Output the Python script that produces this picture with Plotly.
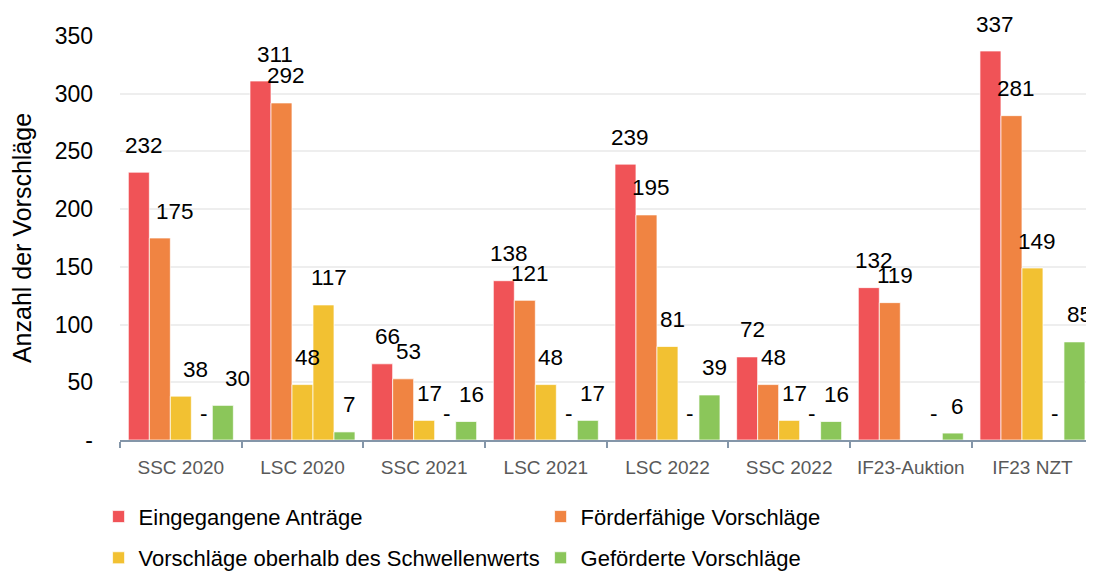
import plotly.graph_objects as go

# ---- data ----
categories = ["SSC 2020", "LSC 2020", "SSC 2021", "LSC 2021", "LSC 2022",
              "SSC 2022", "IF23-Auktion", "IF23 NZT"]
eingegangene = [232, 311, 66, 138, 239, 72, 132, 337]
foerderfaehig = [175, 292, 53, 121, 195, 48, 119, 281]
oberhalb = [38, 48, 17, 48, 81, 17, None, 149]
oberhalb_extra = [0, 117, 0, 0, 0, 0, 0, 0]
gefoerdert = [30, 7, 16, 17, 39, 16, 6, 85]

series_names = ["Eingegangene Anträge", "Förderfähige Vorschläge",
                "Vorschläge oberhalb des Schwellenwerts", "",
                "Geförderte Vorschläge"]
series_values = [eingegangene, foerderfaehig, oberhalb, oberhalb_extra, gefoerdert]
series_colors = ["#F05357", "#F08442", "#F2C132", "#F2C132", "#8BC65A"]
series_legend = ["legend", "legend", "legend2", None, "legend2"]

y_tickvals = [0, 50, 100, 150, 200, 250, 300, 350]
y_ticktext = ["-", "50", "100", "150", "200", "250", "300", "350"]

# label style tweaks (extra horizontal nudge in px for a few labels)
label_extra_dx = {(0, "LSC 2020"): 10, (1, "SSC 2020"): 10,
                  (2, "SSC 2020"): 10, (4, "SSC 2020"): 10}

# ---- layout constants (page body has an 8px margin) ----
W, H = 1086, 572
ML, MR, MT, MB = 112, 0, 28, 140
BARGAP = 0.137
FONT = "Liberation Sans, Arial, sans-serif"
AXIS_COL = "#8496A9"

fig = go.Figure()
for name, vals, col, leg in zip(series_names, series_values, series_colors, series_legend):
    fig.add_trace(go.Bar(
        x=categories, y=vals, name=name,
        marker=dict(color=col, line=dict(color="rgba(255,255,255,0.7)", width=1)),
        showlegend=leg is not None,
        legend=leg if leg else "legend",
    ))

# data labels
plot_w = W - ML - MR
cat_px = plot_w / len(categories)
n = len(series_values)
bar_px = cat_px * (1 - BARGAP) / n
for i, vals in enumerate(series_values):
    for cat, v in zip(categories, vals):
        if v is None:
            continue
        txt = "-" if v == 0 else str(v)
        dx = (2 if v == 0 else 5) + label_extra_dx.get((i, cat), 0)
        fig.add_annotation(
            x=cat, y=v, xref="x", yref="y", text=txt, showarrow=False,
            xshift=(i - (n - 1) / 2) * bar_px + dx,
            yshift=27, yanchor="middle", xanchor="center",
            font=dict(family=FONT, size=22.5, color="#000000"),
        )

legend_common = dict(orientation="h", x=-0.022, xanchor="left", yanchor="middle",
                     entrywidth=397, entrywidthmode="pixels",
                     font=dict(family=FONT, size=22, color="#000000"),
                     bgcolor="rgba(0,0,0,0)", itemclick=False)

fig.update_layout(
    width=W, height=H,
    margin=dict(l=ML, r=MR, t=MT, b=MB),
    paper_bgcolor="white", plot_bgcolor="white",
    barmode="group", bargap=BARGAP, bargroupgap=0,
    font=dict(family=FONT, size=22, color="#000000"),
    legend=dict(legend_common, y=-0.19),
    legend2=dict(legend_common, y=-0.292),
    xaxis=dict(
        showline=True, linecolor=AXIS_COL, linewidth=1.5,
        ticks="outside", tickson="boundaries", ticklen=6, tickcolor=AXIS_COL,
        tickwidth=1.5, ticklabelstandoff=9,
        tickfont=dict(family=FONT, size=19, color="#595959"),
        showgrid=False,
    ),
    yaxis=dict(
        range=[0, 350], tickvals=y_tickvals, ticktext=y_ticktext,
        showgrid=True, gridcolor="#EEEEEE", gridwidth=1.5,
        zeroline=False, showline=False,
        tickfont=dict(family=FONT, size=23, color="#000000"),
        ticklabelstandoff=26,
        title=dict(text="Anzahl der Vorschläge", standoff=18,
                   font=dict(family=FONT, size=25, color="#000000")),
    ),
)

fig.write_html("out.html")
